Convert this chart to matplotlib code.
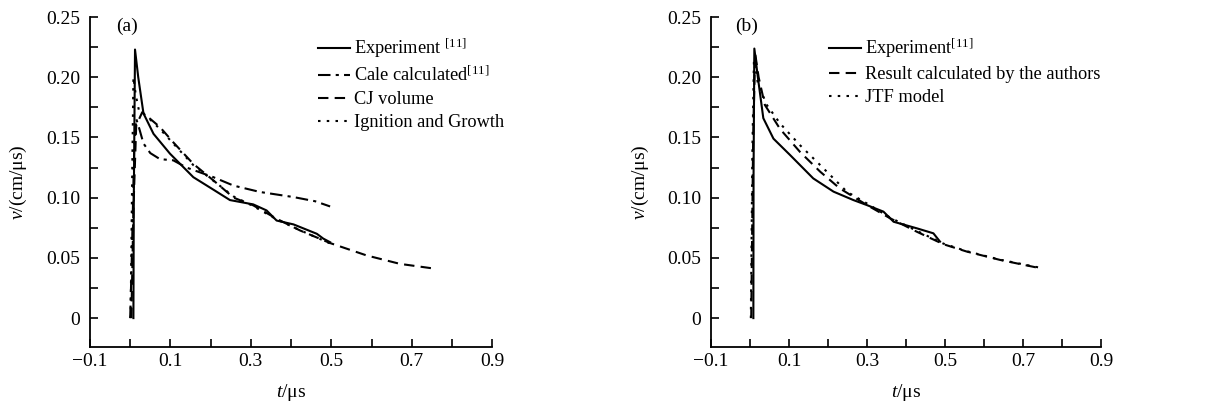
import matplotlib
matplotlib.use("Agg")
from matplotlib import pyplot as plt
from matplotlib.ticker import MultipleLocator, FuncFormatter

plt.rcParams["font.family"] = ["Liberation Serif", "DejaVu Serif"]
plt.rcParams["mathtext.fontset"] = "custom"
plt.rcParams["mathtext.rm"] = "Liberation Serif"
plt.rcParams["mathtext.it"] = "Liberation Serif:italic"
plt.rcParams["font.size"] = 14

# panel (a)
exp_a_t = [0.008, 0.009, 0.012, 0.020, 0.033, 0.058, 0.099, 0.157, 0.207, 0.248, 0.306, 0.339, 0.364, 0.406, 0.464, 0.480, 0.497]
exp_a_v = [0.0, 0.10, 0.223, 0.200, 0.170, 0.153, 0.1365, 0.117, 0.1066, 0.098, 0.0944, 0.0894, 0.081, 0.0778, 0.070, 0.066, 0.063]

cale_t = [0.000, 0.004, 0.010, 0.015, 0.022, 0.033, 0.050, 0.074, 0.107, 0.140, 0.207, 0.257, 0.323, 0.406, 0.460, 0.497]
cale_v = [0.0, 0.05, 0.14, 0.1655, 0.158, 0.145, 0.137, 0.132, 0.131, 0.125, 0.117, 0.110, 0.1047, 0.1005, 0.097, 0.0927]

cj_t = [0.003, 0.008, 0.015, 0.030, 0.074, 0.107, 0.157, 0.207, 0.257, 0.306, 0.364, 0.422, 0.497, 0.588, 0.671, 0.758]
cj_v = [0.0, 0.09, 0.160, 0.171, 0.1586, 0.146, 0.128, 0.1143, 0.100, 0.0936, 0.0825, 0.0728, 0.0623, 0.052, 0.045, 0.041]

ig_t = [0.001, 0.005, 0.008, 0.014, 0.022, 0.040, 0.074, 0.107, 0.157, 0.207, 0.257, 0.306, 0.364, 0.422, 0.497]
ig_v = [0.0, 0.12, 0.200, 0.185, 0.172, 0.168, 0.157, 0.145, 0.127, 0.114, 0.101, 0.093, 0.082, 0.073, 0.062]

# panel (b)
exp_b_t = [0.0085, 0.009, 0.011, 0.020, 0.034, 0.060, 0.1026, 0.162, 0.214, 0.265, 0.299, 0.342, 0.368, 0.427, 0.470, 0.487]
exp_b_v = [0.0, 0.12, 0.2238, 0.200, 0.166, 0.149, 0.1354, 0.116, 0.105, 0.098, 0.0939, 0.0884, 0.080, 0.0746, 0.0704, 0.0635]

res_t = [0.003, 0.008, 0.013, 0.022, 0.038, 0.077, 0.128, 0.180, 0.230, 0.299, 0.359, 0.427, 0.496, 0.556, 0.641, 0.744]
res_v = [0.0, 0.15, 0.220, 0.200, 0.177, 0.157, 0.138, 0.1215, 0.1077, 0.094, 0.0829, 0.0718, 0.0613, 0.0552, 0.0483, 0.0414]

jtf_t = [0.002, 0.006, 0.010, 0.020, 0.043, 0.077, 0.128, 0.180, 0.248, 0.299, 0.359, 0.427, 0.496, 0.556, 0.641, 0.744]
jtf_v = [0.0, 0.14, 0.215, 0.195, 0.177, 0.1616, 0.1436, 0.127, 0.105, 0.0953, 0.0835, 0.0725, 0.0618, 0.0555, 0.0485, 0.0418]

fig = plt.figure(figsize=(12.19, 4.13), dpi=100)
ax1 = fig.add_axes([0.0738, 0.1598, 0.330, 0.799])
ax2 = fig.add_axes([0.5833, 0.1598, 0.320, 0.799])

lw = 1.5
ax1.plot(exp_a_t, exp_a_v, color="black", lw=lw, ls="-", label=r"Experiment $^{[11]}$")
ax1.plot(cale_t, cale_v, color="black", lw=lw, ls=(0, (6, 2.5, 1.5, 2.5)), label=r"Cale calculated$^{[11]}$")
ax1.plot(cj_t, cj_v, color="black", lw=lw, ls=(0, (5, 3)), label="CJ volume")
ax1.plot(ig_t, ig_v, color="black", lw=lw, ls=(0, (1.2, 3)), label="Ignition and Growth")

ax2.plot(exp_b_t, exp_b_v, color="black", lw=lw, ls="-", label=r"Experiment$^{[11]}$")
ax2.plot(res_t, res_v, color="black", lw=lw, ls=(0, (5, 3)), label="Result calculated by the authors")
ax2.plot(jtf_t, jtf_v, color="black", lw=lw, ls=(0, (1.2, 3)), label="JTF model")


def fmt(v, pos):
    if abs(v) < 1e-9:
        return "0"
    return "%.2f" % v


def xfmt(v, pos):
    s = "%.1f" % v
    return s.replace("-", "\u2212")


for ax, tag in [(ax1, "(a)"), (ax2, "(b)")]:
    ax.set_xlim(-0.1, 0.9)
    ax.set_ylim(-0.024, 0.25)
    ax.spines["top"].set_visible(False)
    ax.spines["right"].set_visible(False)
    ax.spines["left"].set_linewidth(1.3)
    ax.spines["bottom"].set_linewidth(1.3)
    ax.xaxis.set_major_locator(MultipleLocator(0.2, offset=0.1))
    ax.xaxis.set_minor_locator(MultipleLocator(0.1))
    ax.yaxis.set_major_locator(MultipleLocator(0.05))
    ax.yaxis.set_minor_locator(MultipleLocator(0.025))
    ax.xaxis.set_major_formatter(FuncFormatter(xfmt))
    ax.yaxis.set_major_formatter(FuncFormatter(fmt))
    ax.tick_params(which="both", direction="in", length=6, width=1.2, labelsize=14)
    ax.tick_params(axis="x", which="major", pad=4)
    ax.tick_params(axis="y", which="major", pad=7)
    ax.set_xlabel(r"$\it{t}$/μs", fontsize=14, labelpad=9)
    ax.set_ylabel(r"$\it{v}$/(cm/μs)", fontsize=14, labelpad=12)
    ax.text(-0.008, 0.242, tag, fontsize=14, ha="center", va="center")

leg_kw = dict(loc="upper left", frameon=False, fontsize=13.2, handlelength=1.75,
              handletextpad=0.2, labelspacing=0.32, borderaxespad=0, borderpad=0)
ax1.legend(bbox_to_anchor=(0.567, 0.94), **leg_kw)
ax2.legend(bbox_to_anchor=(0.303, 0.94), **leg_kw)

fig.savefig("out.png", dpi=100)
